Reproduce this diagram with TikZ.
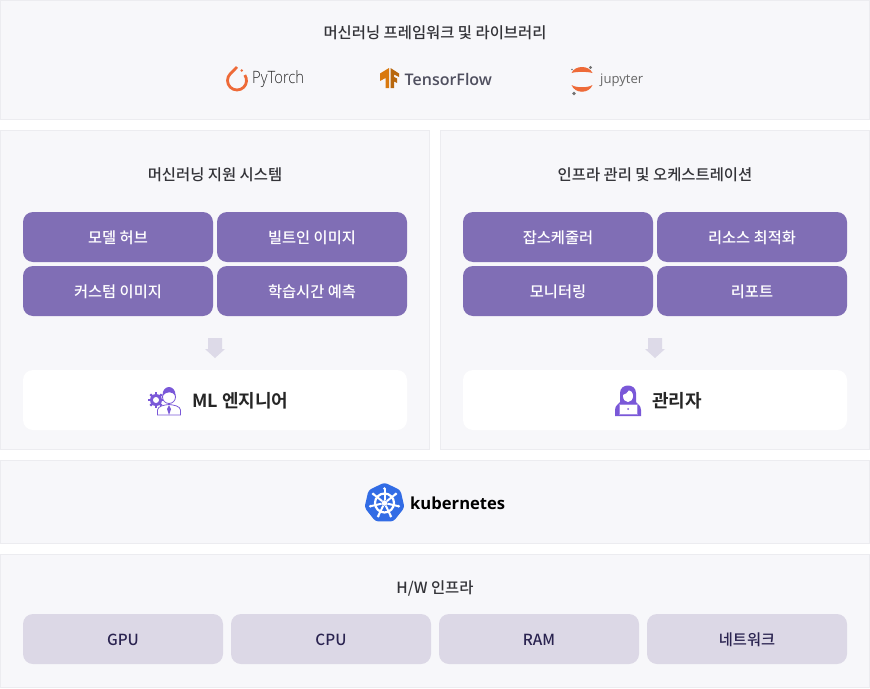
\documentclass[tikz,border=0pt]{standalone}
\usepackage{fontspec}
\setmainfont{Noto Sans CJK KR}[BoldFont={Noto Sans CJK KR Bold}]
\newfontfamily\medkr{Noto Sans CJK KR Medium}
\newfontfamily\boldkr{Noto Sans CJK KR Bold}
\newfontfamily\lightlogo{Open Sans Light}
\newfontfamily\reglogo{Open Sans}
\newfontfamily\boldlogo{Open Sans Bold}
\newfontfamily\semilogo{Open Sans Semibold}
\definecolor{panelbg}{HTML}{F7F7FA}
\definecolor{panelline}{HTML}{ECECF0}
\definecolor{btnpurple}{HTML}{806EB5}
\definecolor{hwbox}{HTML}{DCD8E6}
\definecolor{hwtext}{HTML}{2A2350}
\definecolor{titletext}{HTML}{333338}
\definecolor{arrowfill}{HTML}{DDDAE8}
\definecolor{iconpurple}{HTML}{7A58D8}
\definecolor{torchred}{HTML}{EE6A38}
\definecolor{tforange}{HTML}{D9790F}
\definecolor{tfgrey}{HTML}{4F4F5F}
\definecolor{kubeblue}{HTML}{326CE5}
\tikzset{
  panel/.style={draw=panelline, fill=panelbg, line width=1pt},
  title/.style={font=\medkr\fontsize{15.4}{17}\selectfont, text=titletext},
  btn/.style={fill=btnpurple, rounded corners=10pt, text=white, font=\medkr\fontsize{15.3}{17}\selectfont},
  hwbtn/.style={fill=hwbox, rounded corners=10pt, text=hwtext, font=\medkr\fontsize{15.3}{17}\selectfont},
  rolebox/.style={fill=white, rounded corners=10pt},
  rolelabel/.style={font=\boldkr\fontsize{18}{20}\selectfont, text=black!85},
  box/.style={minimum width=#1, minimum height=50pt, inner sep=0pt, text height=15pt, text depth=2pt},
}
\begin{document}
\begin{tikzpicture}[x=1pt, y=-1pt, every node/.style={inner sep=0pt}]
    \useasboundingbox (0, 0) rectangle (870, 688);
    % panels
    \draw[panel] (0.5, 0.5) rectangle (869.5, 119.5);
    \draw[panel] (0.5, 130.5) rectangle (429.5, 449.5);
    \draw[panel] (440.5, 130.5) rectangle (869.5, 449.5);
    \draw[panel] (0.5, 460.5) rectangle (869.5, 543.5);
    \draw[panel] (0.5, 554.5) rectangle (869.5, 687.5);
    % titles
    \node[title] (t1) at (435, 33) {머신러닝 프레임워크 및 라이브러리};
    \node[title] (t2) at (215, 175) {머신러닝 지원 시스템};
    \node[title] (t3) at (655, 175) {인프라 관리 및 오케스트레이션};
    \node[title] (t4) at (435, 588) {H/W 인프라};
    % left buttons
    \node[btn, box=190pt] (a) at (118, 237) {모델 허브};
    \node[btn, box=190pt] (b) at (312, 237) {빌트인 이미지};
    \node[btn, box=190pt] (c) at (118, 291) {커스텀 이미지};
    \node[btn, box=190pt] (d) at (312, 291) {학습시간 예측};
    % right buttons
    \node[btn, box=190pt] (e) at (558, 237) {잡스케줄러};
    \node[btn, box=190pt] (f) at (752, 237) {리소스 최적화};
    \node[btn, box=190pt] (g) at (558, 291) {모니터링};
    \node[btn, box=190pt] (h) at (752, 291) {리포트};
    % role boxes
    \node[rolebox, minimum width=384pt, minimum height=60pt] (ml) at (215, 400) {};
    \node[rolebox, minimum width=384pt, minimum height=60pt] (op) at (655, 400) {};
    \node[rolelabel, anchor=west] (mll) at (192, 401) {ML 엔지니어};
    \node[rolelabel, anchor=west] (opl) at (652, 401) {관리자};
    % block arrows
    \foreach \x in {215, 655} {
      \fill[arrowfill] (\x-7, 338) -- (\x+7, 338) -- (\x+7, 349) -- (\x+10, 349)
        -- (\x, 358) -- (\x-10, 349) -- (\x-7, 349) -- cycle;
    }
    % hardware
    \node[hwbtn, box=200pt] (gpu) at (123, 639) {GPU};
    \node[hwbtn, box=200pt] (cpu) at (331, 639) {CPU};
    \node[hwbtn, box=200pt] (ram) at (539, 639) {RAM};
    \node[hwbtn, box=200pt] (net) at (747, 639) {네트워크};
    % pytorch
    \begin{scope}[shift={(237, 80.5)}]
      \draw[torchred, line width=2.8pt] (0, -13.5) -- (-135:9.5) arc[start angle=-135, end angle=-395, radius=9.5];
      \fill[torchred] (4.8, -10) circle (1.4);
    \end{scope}
    \node[font=\lightlogo\fontsize{17}{20}\selectfont, text=black!85, anchor=west, xscale=0.87] (pt) at (252, 79) {PyTorch};
    % tensorflow
    \fill[tforange] (389, 68) -- (389, 88) -- (385.5, 88) -- (385.5, 78) -- (380, 81) -- (380, 73.5) -- cycle;
    \fill[tforange!85!black] (390.5, 68) -- (390.5, 88) -- (394, 88) -- (394, 81.5) -- (397, 83) -- (397, 78.5) -- (394, 77) -- (394, 74.5) -- (399, 77) -- (399, 73.5) -- cycle;
    \node[font=\semilogo\fontsize{16}{20}\selectfont, text=tfgrey, anchor=west] (tf) at (404.5, 79) {TensorFlow};
    % jupyter
    \fill[torchred] (571.5, 73) .. controls (575, 65) and (589, 65) .. (592.5, 73) .. controls (588, 71.5) and (576, 71.5) .. cycle;
    \fill[torchred] (571.5, 85) .. controls (575, 94) and (589, 94) .. (592.5, 85) .. controls (588, 88) and (576, 88) .. cycle;
    \fill[black!55] (590.5, 67.5) circle (1.6);
    \fill[black!55] (572, 69.5) circle (0.9);
    \fill[black!55] (574, 93.5) circle (1.8);
    \node[font=\reglogo\fontsize{13.1}{15}\selectfont, text=black!60, anchor=west] (jp) at (600, 80) {jupyter};
    % kubernetes
    \begin{scope}[shift={(384.5, 503)}]
      \fill[kubeblue, rounded corners=3pt] (-90:20.5) -- (-38.6:20.5) -- (12.9:20.5) -- (64.3:20.5) -- (115.7:20.5) -- (167.1:20.5) -- (218.6:20.5) -- cycle;
      \draw[white, line width=2.2pt] (0, 0) circle (9.5);
      \foreach \a in {-90, -38.6, 12.9, 64.3, 115.7, 167.1, 218.6} {
        \draw[white, line width=2pt] (\a:3) -- (\a:14);
        \fill[white] (\a:14.5) circle (1.5);
      }
      \fill[white] (0, 0) circle (2.8);
    \end{scope}
    \node[font=\boldlogo\fontsize{16.6}{20}\selectfont, text=black, anchor=west] (k8s) at (410, 503) {kubernetes};
    % engineer icon
    \begin{scope}[shift={(156, 400)}]
      \fill[iconpurple] (0, 0) circle (6);
      \foreach \a in {0, 45, ..., 315} {
        \draw[iconpurple, line width=2.2pt] (\a:5) -- (\a:8);
      }
      \fill[white] (0, 0) circle (3);
    \end{scope}
    \fill[white, draw=iconpurple, line width=0.8pt] (157.5, 415) -- (157.5, 410) .. controls (158, 406) and (164, 405) .. (169, 404.5) .. controls (174, 405) and (180, 406) .. (180.5, 410) -- (180.5, 415) -- cycle;
    \fill[iconpurple] (169, 405) -- (171, 409) -- (169, 415) -- (167, 409) -- cycle;
    \fill[white, draw=iconpurple, line width=0.8pt] (169, 397) circle (6.5);
    \fill[iconpurple] (162.5, 396) .. controls (162, 384) and (176, 384) .. (175.5, 396) .. controls (173, 391) and (166, 391) .. cycle;
    % admin icon
    \fill[iconpurple] (615, 416) -- (615, 410) .. controls (615, 405) and (619, 404) .. (620, 402) -- (620, 393) .. controls (620, 383) and (636, 383) .. (636, 393) -- (636, 402) .. controls (637, 404) and (641, 405) .. (641, 410) -- (641, 416) -- cycle;
    \fill[white] (628, 396) ellipse (5 and 6);
    \fill[iconpurple] (622.5, 395) .. controls (625, 394) and (628, 393) .. (629, 390) -- (622, 390) -- cycle;
    \fill[white, draw=iconpurple!70, line width=0.8pt] (619, 404) rectangle (637, 414);
    \fill[iconpurple] (628, 409) circle (1);
\end{tikzpicture}
\end{document}
